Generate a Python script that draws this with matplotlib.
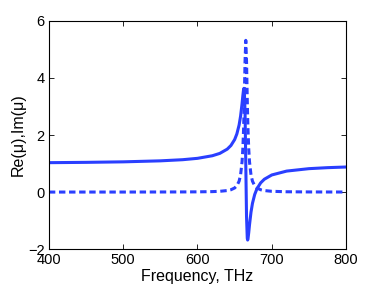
import matplotlib
matplotlib.use("Agg")
import matplotlib.pyplot as plt

freq = [400, 450, 500, 550, 580, 600, 620, 630, 640, 645, 650, 653, 656, 658,
        660, 661, 662, 662.5, 663, 664, 665, 666, 667, 667.5, 668, 669, 670,
        672, 674, 677, 680, 685, 690, 700, 720, 750, 775, 800]
re_mu = [1.031, 1.042, 1.060, 1.095, 1.135, 1.183, 1.274, 1.356, 1.505, 1.633,
         1.841, 2.041, 2.351, 2.664, 3.107, 3.370, 3.595, 3.638, 3.572, 2.806,
         0.968, -0.863, -1.618, -1.682, -1.638, -1.412, -1.149, -0.706, -0.393,
         -0.084, 0.115, 0.323, 0.451, 0.600, 0.736, 0.821, 0.856, 0.879]
im_mu = [0.000, 0.001, 0.001, 0.003, 0.005, 0.008, 0.016, 0.027, 0.053, 0.082,
         0.144, 0.221, 0.381, 0.603, 1.066, 1.497, 2.184, 2.665, 3.250, 4.592,
         5.320, 4.580, 3.238, 2.655, 2.176, 1.492, 1.062, 0.601, 0.381, 0.221,
         0.144, 0.082, 0.053, 0.027, 0.011, 0.005, 0.003, 0.002]

xticks = [400, 500, 600, 700, 800]
yticks = [-2, 0, 2, 4, 6]

plt.rcParams['font.family'] = ['Liberation Sans', 'DejaVu Sans']

fig = plt.figure(figsize=(3.82, 2.87), dpi=100)
ax = fig.add_axes([0.128, 0.132, 0.778, 0.795])
color = '#2a3fff'
ax.plot(freq, re_mu, color=color, lw=2.2, solid_capstyle='round')
ax.plot(freq, im_mu, color=color, lw=2.2, linestyle=(0, (2.1, 1.2)))

ax.set_xlim(400, 800)
ax.set_ylim(-2, 6)
ax.set_xticks(xticks)
ax.set_yticks(yticks)
ax.tick_params(direction='in', top=True, right=True, length=3.5, width=0.6,
               labelsize=10.5, pad=3)
for s in ax.spines.values():
    s.set_linewidth(0.8)
ax.set_xlabel('Frequency, THz', fontsize=11.5, labelpad=1)
ax.set_ylabel('Re(μ),Im(μ)', fontsize=11.5, labelpad=2)

fig.savefig('out.png', dpi=100)
